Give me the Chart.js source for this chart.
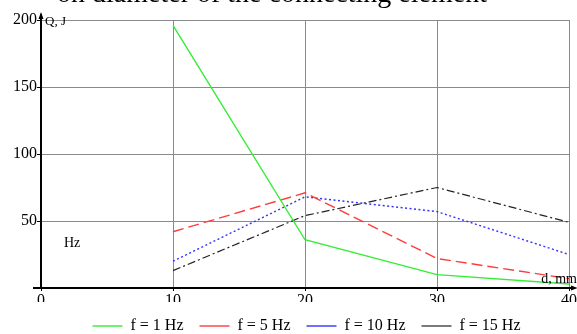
<!DOCTYPE html>
<html>
<head>
<meta charset="utf-8">
<script src="https://cdn.jsdelivr.net/npm/chart.js@4.4.1/dist/chart.umd.min.js"></script>
<style>
  html, body { margin: 0; padding: 0; background: #fff; }
  #wrap { width: 577px; height: 334px; }
</style>
</head>
<body>
<div id="wrap"><canvas id="myChart" width="577" height="334"></canvas></div>
<script>
// d, mm
const diameters = [10, 20, 30, 40];
// Q, J for each frequency
const q1Hz = [196, 36, 10, 3];
const q5Hz = [42, 71, 22, 7];
const q10Hz = [20, 68, 57, 25];
const q15Hz = [13, 54, 75, 49];
const seriesLabels = ['f = 1 Hz', 'f = 5 Hz', 'f = 10 Hz', 'f = 15 Hz'];
const yTicks = [0, 50, 100, 150, 200];
const xTicks = [0, 10, 20, 30, 40];

const serif = "'Liberation Serif', 'DejaVu Serif', serif";

function pts(vals) {
  return diameters.map((d, i) => ({ x: d, y: vals[i] }));
}

// legend in the original sits a bit right of centre
const legendShift = {
  id: 'legendShift',
  afterLayout(chart) {
    const lg = chart.legend;
    if (lg) { lg.left += 22; lg.right += 22; }
  }
};

// axis arrows and free text labels
const decor = {
  id: 'decor',
  afterDraw(chart) {
    const ctx = chart.ctx;
    const a = chart.chartArea;
    ctx.save();
    ctx.strokeStyle = '#000';
    ctx.fillStyle = '#000';
    ctx.lineWidth = 2;
    // y axis extension + arrow
    ctx.beginPath();
    ctx.moveTo(a.left, a.top);
    ctx.lineTo(a.left, a.top - 6);
    ctx.stroke();
    ctx.beginPath();
    ctx.moveTo(a.left, a.top - 8);
    ctx.lineTo(a.left - 2.5, a.top - 1);
    ctx.lineTo(a.left + 2.5, a.top - 1);
    ctx.closePath();
    ctx.fill();
    // x axis extension + arrow
    ctx.beginPath();
    ctx.moveTo(a.left - 8, a.bottom);
    ctx.lineTo(a.right + 6, a.bottom);
    ctx.stroke();
    ctx.beginPath();
    ctx.moveTo(a.right + 9, a.bottom);
    ctx.lineTo(a.right + 2, a.bottom - 2.5);
    ctx.lineTo(a.right + 2, a.bottom + 2.5);
    ctx.closePath();
    ctx.fill();

    ctx.font = '13px ' + serif;
    ctx.textBaseline = 'alphabetic';
    ctx.textAlign = 'left';
    ctx.fillText('Q, J', a.left + 4, a.top + 5);
    ctx.font = '14px ' + serif;
    ctx.fillText('Hz', 64, 247);
    ctx.textAlign = 'right';
    ctx.fillText('d, mm', 577, a.bottom - 5);

    // title, cut off at the top edge
    ctx.font = '28px ' + serif;
    ctx.textAlign = 'center';
    ctx.fillText('on diameter of the connecting element', 272, 2);
    ctx.restore();
  }
};

const ctx = document.getElementById('myChart').getContext('2d');
const myChart = new Chart(ctx, {
  type: 'line',
  data: {
    datasets: [
      { label: seriesLabels[0], data: pts(q1Hz), borderColor: '#33ee33', borderWidth: 1.4, borderDash: [] },
      { label: seriesLabels[1], data: pts(q5Hz), borderColor: '#ff3b3b', borderWidth: 1.4, borderDash: [11, 5] },
      { label: seriesLabels[2], data: pts(q10Hz), borderColor: '#3333ff', borderWidth: 1.4, borderDash: [2, 2.5] },
      { label: seriesLabels[3], data: pts(q15Hz), borderColor: '#222222', borderWidth: 1.2, borderDash: [8, 3, 2, 3] }
    ]
  },
  options: {
    responsive: false,
    animation: false,
    clip: false,
    elements: { point: { radius: 0 }, line: { tension: 0, fill: false } },
    layout: { padding: { top: 20, right: 8, left: 0, bottom: -10 } },
    scales: {
      x: {
        type: 'linear',
        min: 0,
        max: 40,
        afterBuildTicks: s => { s.ticks = xTicks.map(v => ({ value: v })); },
        afterFit: s => { s.height = 14; },
        grid: { color: '#8a8a8a', lineWidth: 1, tickColor: '#000', tickLength: 3 },
        border: { display: true, color: '#000', width: 2 },
        ticks: { color: '#000', padding: 0, maxRotation: 0, font: { family: serif, size: 16 } }
      },
      y: {
        min: 0,
        max: 200,
        afterBuildTicks: s => { s.ticks = yTicks.map(v => ({ value: v })); },
        afterFit: s => { s.width = 41; },
        grid: { color: '#8a8a8a', lineWidth: 1, tickColor: '#000', tickLength: 4 },
        border: { display: true, color: '#000', width: 2 },
        ticks: {
          color: '#000',
          padding: 0,
          font: { family: serif, size: 16 },
          callback: v => (v === 0 ? '' : v)
        }
      }
    },
    plugins: {
      tooltip: { enabled: false },
      legend: {
        display: true,
        position: 'bottom',
        labels: {
          color: '#000',
          font: { family: serif, size: 16 },
          usePointStyle: true,
          pointStyle: 'line',
          pointStyleWidth: 30,
          padding: 16
        }
      }
    }
  },
  plugins: [legendShift, decor]
});
</script>
</body>
</html>
